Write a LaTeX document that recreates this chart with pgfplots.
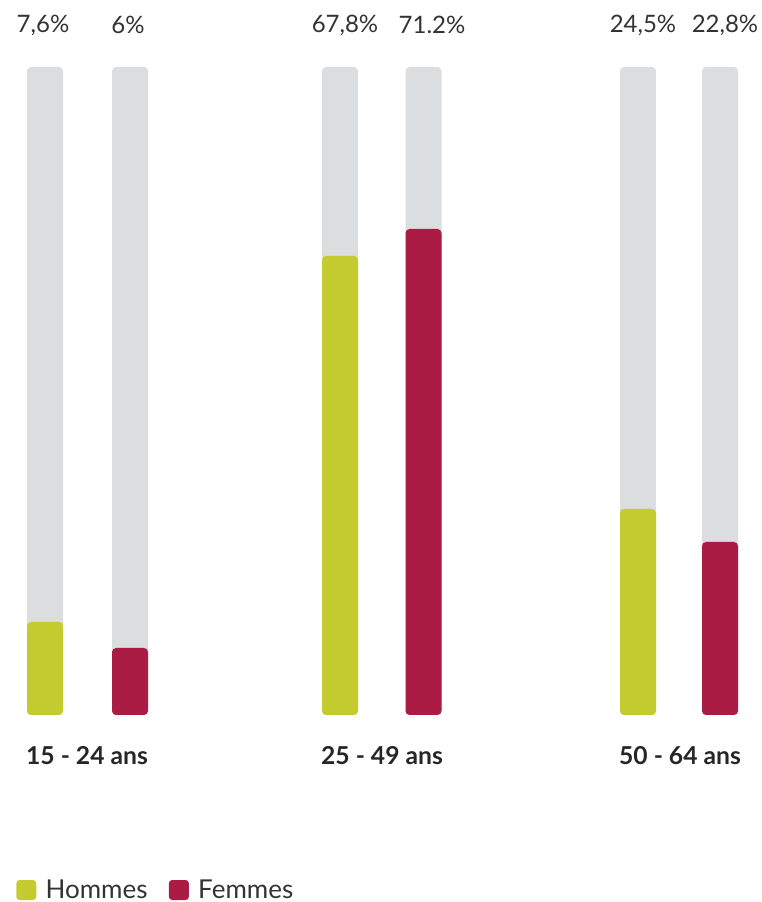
\documentclass[border=0pt]{standalone}
\usepackage{pgfplots}
\pgfplotsset{compat=1.18}
\usepackage{fontspec}
\setmainfont{Lato}
\definecolor{hgreen}{HTML}{C3CB2F}
\definecolor{fred}{HTML}{AA1C44}
\definecolor{bgrey}{HTML}{DCDDDF}
\definecolor{txt}{HTML}{333333}
\begin{document}
\begin{tikzpicture}[x=0.75pt,y=0.75pt]
\begin{axis}[
  scale only axis, width=571.5pt, height=676.5pt,
  xmin=0, xmax=762, ymin=-187, ymax=715,
  axis lines=none, clip=false,
  ybar, bar width=36, bar shift=0pt,
  legend style={draw=none, fill=none, at={(axis cs:12,-175)}, anchor=west,
    font=\fontsize{19.5}{21}\selectfont\color{txt},
    /tikz/every even column/.append style={column sep=14pt}},
  legend columns=2,
  legend image code/.code={\fill[#1, rounded corners=2.5pt] (0pt,-7.5pt) rectangle (15pt,7.5pt);},
]
\addplot[fill=bgrey, draw=none, rounded corners=3pt, forget plot] coordinates {(45,648) (130,648) (340,648) (423.5,648) (638,648) (720,648)};
\addplot[fill=hgreen, draw=none, rounded corners=3pt] coordinates {(45,93) (340,459) (638,206)};
\addplot[fill=fred, draw=none, rounded corners=3pt] coordinates {(130,67) (423.5,486) (720,173)};
\legend{\hspace{5pt}Hommes, \hspace{5pt}Femmes}
\begin{scope}[font=\fontsize{18}{20}\selectfont, text=txt]
\node at (axis cs:43,690) {7,6\%};
\node at (axis cs:128,690) {6\%};
\node at (axis cs:345,690) {67,8\%};
\node at (axis cs:432,690) {71.2\%};
\node at (axis cs:643,690) {24,5\%};
\node at (axis cs:725,690) {22,8\%};
\end{scope}
\begin{scope}[font=\fontsize{18.5}{20}\selectfont\bfseries, text=black!85]
\node at (axis cs:87,-41) {15 - 24 ans};
\node at (axis cs:382,-41) {25 - 49 ans};
\node at (axis cs:680,-41) {50 - 64 ans};
\end{scope}
\coordinate (ll) at (axis cs:0,-187);
\coordinate (ur) at (axis cs:762,715);
\end{axis}
\pgfresetboundingbox
\path (ll) rectangle (ur);
\end{tikzpicture}
\end{document}
